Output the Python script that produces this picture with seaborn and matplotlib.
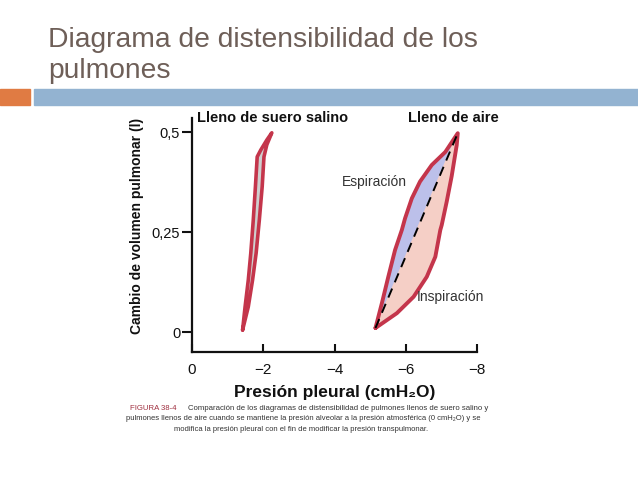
import matplotlib
matplotlib.use("Agg")
import matplotlib.pyplot as plt
import numpy as np
import pandas as pd
import seaborn as sns

# pressure (cmH2O) / volume change (l)
saline_left_p = [-1.42, -1.49, -1.58, -1.65, -1.72, -1.78, -1.83, -1.93, -2.10, -2.24]
saline_left_v = [0.005, 0.063, 0.13, 0.197, 0.28, 0.363, 0.438, 0.455, 0.48, 0.498]
saline_right_p = [-1.42, -1.58, -1.70, -1.80, -1.89, -1.97, -2.02, -2.10, -2.24]
saline_right_v = [0.005, 0.063, 0.13, 0.197, 0.28, 0.363, 0.438, 0.468, 0.498]

air_exp_p = [-5.15, -5.33, -5.51, -5.70, -5.89, -5.98, -6.17, -6.40, -6.73, -7.11, -7.46]
air_exp_v = [0.01, 0.072, 0.138, 0.205, 0.255, 0.284, 0.334, 0.376, 0.4175, 0.45, 0.497]
air_insp_p = [-5.15, -5.75, -6.22, -6.59, -6.83, -6.97, -7.01, -7.15, -7.29, -7.43, -7.46]
air_insp_v = [0.01, 0.047, 0.088, 0.138, 0.188, 0.255, 0.2675, 0.326, 0.39, 0.467, 0.497]

x_ticks = [0, -2, -4, -6, -8]
x_labels = ["0", "\u22122", "\u22124", "\u22126", "\u22128"]
y_ticks = [0, 0.25, 0.5]
y_labels = ["0", "0,25", "0,5"]

RED = "#c4354b"
FONTS = ["Liberation Sans", "DejaVu Sans"]

sns.set_theme(style="white")
plt.rcParams["font.family"] = FONTS

fig = plt.figure(figsize=(6.38, 4.79), dpi=100)

# slide title and bars
fig.text(48 / 638, 1 - 47 / 479, "Diagrama de distensibilidad de los", fontsize=20.3,
         color="#6e5f58", ha="left", va="baseline")
fig.text(48 / 638, 1 - 78 / 479, "pulmones", fontsize=20.3,
         color="#6e5f58", ha="left", va="baseline")
fig.patches.append(plt.Rectangle((0, 1 - 105 / 479), 30 / 638, 16 / 479,
                                 transform=fig.transFigure, color="#e07b43", zorder=0))
fig.patches.append(plt.Rectangle((34 / 638, 1 - 105 / 479), 604 / 638, 16 / 479,
                                 transform=fig.transFigure, color="#93b3d1", zorder=0))

ax = fig.add_axes([192 / 638, 1 - 352 / 479, 285 / 638, 234 / 479])
ax.set_xlim(0, -8)
ax.set_ylim(-0.05, 0.535)

# saline loop
loop_p = saline_left_p + saline_right_p[::-1]
loop_v = saline_left_v + saline_right_v[::-1]
ax.fill(loop_p, loop_v, color="#cfcfcf", zorder=1)
ax.plot(loop_p, loop_v, color=RED, lw=2.6, solid_joinstyle="round", zorder=3)

# air loop: expiration (blue) and inspiration (pink) areas split by the dashed chord
chord_p = [air_exp_p[0], air_exp_p[-1]]
chord_v = [air_exp_v[0], air_exp_v[-1]]
ax.fill(air_exp_p + chord_p[::-1], air_exp_v + chord_v[::-1], color="#bcc0ea", zorder=1)
ax.fill(air_insp_p + chord_p[::-1], air_insp_v + chord_v[::-1], color="#f5cfc6", zorder=1)
df = pd.DataFrame({"p": air_exp_p + air_insp_p[::-1], "v": air_exp_v + air_insp_v[::-1]})
sns.lineplot(data=df, x="p", y="v", sort=False, estimator=None, color=RED, lw=2.8,
             solid_joinstyle="round", ax=ax, zorder=3)
ax.plot(chord_p, chord_v, color="black", lw=1.4, ls=(0, (5, 3.5)), zorder=4)

ax.text(-0.15, 0.535, "Lleno de suero salino", fontsize=10.5, fontweight="bold",
        ha="left", va="center", color="#111111")
ax.text(-6.05, 0.535, "Lleno de aire", fontsize=10.5, fontweight="bold",
        ha="left", va="center", color="#111111")
ax.text(-4.2, 0.375, "Espiración", fontsize=10, ha="left", va="center", color="#333333")
ax.text(-6.3, 0.087, "Inspiración", fontsize=10, ha="left", va="center", color="#333333")

ax.set_xticks(x_ticks)
ax.set_xticklabels(x_labels, fontsize=11)
ax.set_yticks(y_ticks)
ax.set_yticklabels(y_labels, fontsize=10.5)
ax.tick_params(axis="x", bottom=True, direction="in", length=6, width=1.5, pad=8,
               colors="#111111")
ax.tick_params(axis="y", left=True, direction="out", length=7, width=1.5, pad=1.5,
               colors="#111111")
ax.set_xlabel("Presión pleural (cmH\u2082O)", fontsize=12.5, fontweight="bold", labelpad=6,
              color="#111111")
ax.set_ylabel("Cambio de volumen pulmonar (l)", fontsize=10, fontweight="bold",
              color="#111111")
ax.yaxis.set_label_coords(-0.17, 0.538)
sns.despine(ax=ax)
for side in ["left", "bottom"]:
    ax.spines[side].set_linewidth(1.6)
    ax.spines[side].set_color("#111111")
ax.grid(False)

# figure caption
cap_y = [1 - 408 / 479, 1 - 419 / 479, 1 - 429.5 / 479]
fig.text(130 / 638, cap_y[0], "FIGURA 38-4", fontsize=5.6, color="#a03040",
         ha="left", va="center")
fig.text(188 / 638, cap_y[0],
         "Comparación de los diagramas de distensibilidad de pulmones llenos de suero salino y",
         fontsize=5.6, color="#333333", ha="left", va="center")
fig.text(303 / 638, cap_y[1],
         "pulmones llenos de aire cuando se mantiene la presión alveolar a la presión atmosférica (0 cmH\u2082O) y se",
         fontsize=5.5, color="#333333", ha="center", va="center")
fig.text(301 / 638, cap_y[2],
         "modifica la presión pleural con el fin de modificar la presión transpulmonar.",
         fontsize=5.5, color="#333333", ha="center", va="center")

fig.savefig("out.png", dpi=100, facecolor="white")
